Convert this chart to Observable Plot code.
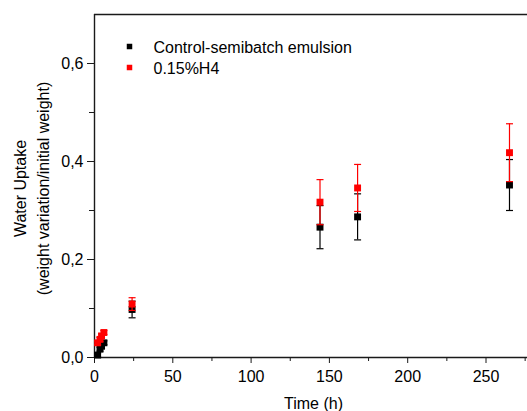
<!DOCTYPE html>
<html>
<head>
<meta charset="utf-8">
<script src="https://cdn.jsdelivr.net/npm/d3@7"></script>
<script src="https://cdn.jsdelivr.net/npm/@observablehq/plot@0.6"></script>
<style>
  html, body { margin: 0; padding: 0; background: #fff; }
  svg { display: block; font-family: "Liberation Sans", Arial, sans-serif; }
</style>
</head>
<body>
<div id="chart"></div>
<script>
// ---- data ----
const times = [2, 3.5, 4.5, 6, 24, 144, 168, 265];
const controlMean = [0.005, 0.017, 0.023, 0.030, 0.098, 0.266, 0.287, 0.352];
const controlErr  = [0.004, 0.004, 0.004, 0.004, 0.017, 0.044, 0.047, 0.052];
const h4Mean = [0.030, 0.037, 0.044, 0.051, 0.109, 0.317, 0.346, 0.418];
const h4Err  = [0.004, 0.004, 0.004, 0.004, 0.013, 0.046, 0.048, 0.059];

const seriesNames = ["Control-semibatch emulsion", "0.15%H4"];
const seriesColors = ["#000000", "#ff0000"];

const xMajorTicks = [0, 50, 100, 150, 200, 250];
const xMinorTicks = [25, 75, 125, 175, 225, 275];
const yMajorTicks = [0, 0.2, 0.4, 0.6];
const yMinorTicks = [0.1, 0.3, 0.5];

const xLabel = "Time (h)";
const yLabel = "Water Uptake\n(weight variation/initial weight)";

// ---- build tables ----
const control = times.map((t, i) => ({t, v: controlMean[i], e: controlErr[i]}));
const h4 = times.map((t, i) => ({t, v: h4Mean[i], e: h4Err[i]}));

// horizontal cap symbol for error bars
const capSymbol = {
  draw(context, size) {
    const w = Math.sqrt(size / Math.PI); // equals r
    context.moveTo(-w, 0);
    context.lineTo(w, 0);
  }
};

const fmt = d => d.toFixed(1).replace(".", ",");
const FS = 16;

function errMarks(data, color) {
  return [
    Plot.ruleX(data, {x: "t", y1: d => d.v - d.e, y2: d => d.v + d.e, stroke: color, strokeWidth: 1.2}),
    Plot.dot(data, {x: "t", y: d => d.v + d.e, symbol: capSymbol, r: 3.5, stroke: color, strokeWidth: 1.2, fill: "none"}),
    Plot.dot(data, {x: "t", y: d => d.v - d.e, symbol: capSymbol, r: 3.5, stroke: color, strokeWidth: 1.2, fill: "none"})
  ];
}

const chart = Plot.plot({
  width: 527,
  height: 411,
  marginLeft: 94,
  marginRight: 0,
  marginTop: 14,
  marginBottom: 54,
  style: {fontFamily: '"Liberation Sans", Arial, sans-serif', fontSize: FS + "px", color: "#000", background: "#fff"},
  x: {domain: [0, 276.5], label: null},
  y: {domain: [0, 0.7], label: null},
  marks: [
    // frame lines
    Plot.ruleY([0, 0.7], {stroke: "#1a1a1a", strokeWidth: 1.4}),
    Plot.ruleX([0], {stroke: "#1a1a1a", strokeWidth: 1.4}),
    // axes
    Plot.axisX({ticks: xMajorTicks, tickSize: 6, tickPadding: 7, tickFormat: d => String(d), fontSize: FS, label: null, stroke: "#1a1a1a"}),
    Plot.axisX({ticks: xMinorTicks, tickSize: 4, tickFormat: () => "", label: null, stroke: "#1a1a1a"}),
    Plot.axisY({ticks: yMajorTicks, tickSize: 7, tickPadding: 4, tickFormat: fmt, fontSize: FS, label: null, stroke: "#1a1a1a"}),
    Plot.axisY({ticks: yMinorTicks, tickSize: 5, tickFormat: () => "", label: null, stroke: "#1a1a1a"}),
    // data: control
    ...errMarks(control, seriesColors[0]),
    Plot.dot(control, {x: "t", y: "v", symbol: "square", r: 3.9, fill: seriesColors[0], stroke: "none"}),
    // data: 0.15%H4
    ...errMarks(h4, seriesColors[1]),
    Plot.dot(h4, {x: "t", y: "v", symbol: "square", r: 3.9, fill: seriesColors[1], stroke: "none"}),
    // legend
    Plot.dot(seriesNames, {frameAnchor: "top-left", dx: 35, dy: (d, i) => 0, symbol: "square", r: 3.1, fill: seriesColors[0], filter: (d, i) => i === 0, dy: 32}),
    Plot.dot(seriesNames, {frameAnchor: "top-left", dx: 35, symbol: "square", r: 3.1, fill: seriesColors[1], filter: (d, i) => i === 1, dy: 53}),
    Plot.text(seriesNames, {filter: (d, i) => i === 0, frameAnchor: "top-left", text: d => d, dx: 59, dy: 33, textAnchor: "start", lineAnchor: "middle", fontSize: FS, fill: "#000"}),
    Plot.text(seriesNames, {filter: (d, i) => i === 1, frameAnchor: "top-left", text: d => d, dx: 59, dy: 54, textAnchor: "start", lineAnchor: "middle", fontSize: FS, fill: "#000"}),
    // axis titles
    Plot.text([xLabel], {frameAnchor: "bottom", text: d => d, dx: 2.5, dy: 46.6, lineAnchor: "middle", fontSize: FS, fill: "#000"}),
    Plot.text([yLabel], {frameAnchor: "left", text: d => d, dx: -64, dy: 2.5, rotate: -90, lineAnchor: "middle", textAnchor: "middle", lineHeight: 1.4, fontSize: FS, fill: "#000"})
  ]
});

document.getElementById("chart").appendChild(chart);
</script>
</body>
</html>
